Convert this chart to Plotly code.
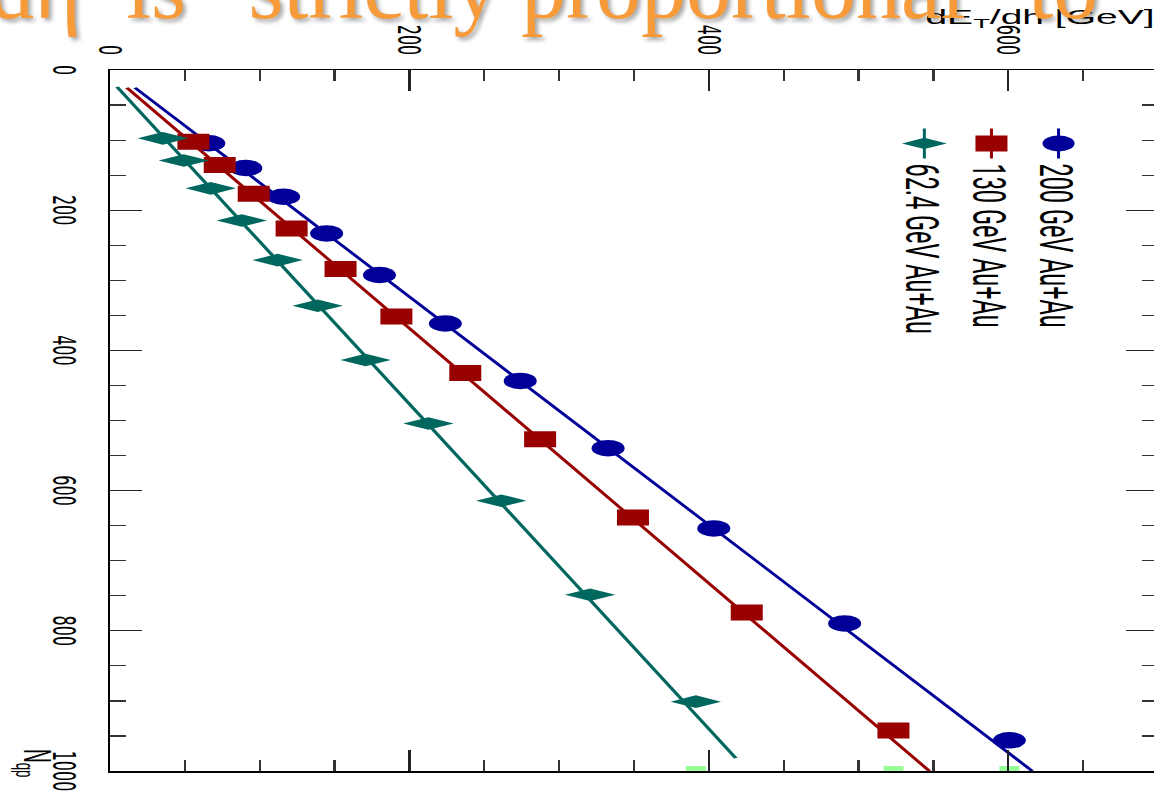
import plotly.graph_objects as go

# Transverse energy per unit pseudorapidity vs. number of quark participants
n_qp_200 = [104.5, 139.8, 180.8, 233.1, 292.4, 361.6, 443.5, 539.5, 654.0, 789.5, 956.2]
et_200 = [66.0, 90.7, 116.0, 144.7, 180.0, 224.0, 274.0, 332.7, 403.3, 490.7, 600.7]

n_qp_130 = [102.4, 135.6, 176.6, 226.0, 283.9, 351.7, 432.2, 526.8, 638.4, 774.0, 942.1]
et_130 = [55.7, 73.3, 96.0, 121.3, 154.0, 191.3, 237.3, 287.3, 349.3, 425.3, 523.3]

n_qp_62 = [97.5, 129.2, 168.8, 214.7, 271.2, 336.2, 413.8, 504.2, 614.4, 748.6, 901.1]
et_62 = [35.3, 49.3, 67.3, 88.0, 112.0, 138.7, 170.7, 212.7, 261.3, 320.7, 391.3]

# Linear fits, as end points of each fitted line
fit_n_200 = [25.4, 1000.0]
fit_et_200 = [16.7, 616.0]
fit_n_130 = [25.4, 1000.0]
fit_et_130 = [11.3, 547.3]
fit_n_62 = [24.0, 981.6]
fit_et_62 = [4.7, 418.0]

# Projections of the most central points onto the N_qp = 1000 edge
edge_n = [1000, 1000, 1000]
edge_et = [391.3, 523.3, 600.7]

series_names = ["200 GeV Au+Au", "130 GeV Au+Au", "62.4 GeV Au+Au"]
series_colors = ["#000099", "#990000", "#00675F"]
series_symbols = ["circle", "square", "diamond-tall"]
series_sizes = [16.5, 16, 18]

# The figure is laid out in its natural orientation (N_qp horizontal) and
# then turned a quarter turn clockwise on the page, stretched 2x across.
W, H = 801, 591
ML, MR, MT, MB = 70, 23, 10, 56
KX = 2.0
SHIFT = 1180
PW, PH = W - ML - MR, H - MT - MB


def paper_x(xo):
    return (xo - ML) / PW


def paper_y(yo):
    return (MT + PH - yo) / PH


fig = go.Figure()

groups = [
    (n_qp_200, et_200, fit_n_200, fit_et_200),
    (n_qp_130, et_130, fit_n_130, fit_et_130),
    (n_qp_62, et_62, fit_n_62, fit_et_62),
]

for (nq, et, fn, fe), name, col, sym, sz in zip(
    groups, series_names, series_colors, series_symbols, series_sizes
):
    fig.add_trace(go.Scatter(
        x=fn, y=fe, mode="lines", line=dict(color=col, width=2),
        showlegend=False, hoverinfo="skip",
    ))
    fig.add_trace(go.Scatter(
        x=nq, y=et, mode="markers", name=name,
        marker=dict(color=col, symbol=sym, size=sz, line=dict(width=0)),
        showlegend=False,
    ))

# legend entries: line with marker
for name, col, sym, sz in zip(series_names, series_colors, series_symbols, series_sizes):
    fig.add_trace(go.Scatter(
        x=[None], y=[None], mode="lines+markers", name=name,
        line=dict(color=col, width=1.5),
        marker=dict(color=col, symbol=sym, size=sz, line=dict(width=0)),
    ))

fig.add_trace(go.Scatter(
    x=edge_n, y=edge_et, mode="markers", showlegend=False,
    marker=dict(color="#99FF99", symbol="square", size=10, line=dict(width=0)),
    cliponaxis=True, hoverinfo="skip",
))

tick_font = dict(family="DejaVu Sans", size=16, color="black")

fig.update_xaxes(
    range=[0, 1000], tick0=0, dtick=200,
    ticks="inside", ticklen=16, tickwidth=1.2, tickcolor="#222",
    minor=dict(tick0=0, dtick=50, ticks="inside", ticklen=8, tickwidth=1.2, tickcolor="#333"),
    showline=True, linecolor="black", linewidth=1.2, mirror="allticks",
    showgrid=False, zeroline=False, tickfont=tick_font, ticklabelstandoff=8,
)
fig.update_yaxes(
    range=[0, 700], tick0=0, dtick=200,
    ticks="inside", ticklen=21, tickwidth=1.2, tickcolor="#222",
    minor=dict(tick0=0, dtick=50, ticks="inside", ticklen=11, tickwidth=1.2, tickcolor="#333"),
    showline=True, linecolor="black", linewidth=1.5, mirror="allticks",
    showgrid=False, zeroline=False, tickfont=tick_font, ticklabelstandoff=10,
)

annotations = [
    dict(
        text="dE<sub>T</sub>/dh [GeV]",
        xref="paper", yref="paper",
        x=paper_x(18), y=paper_y((SHIFT - 923) / KX),
        xanchor="center", yanchor="bottom", textangle=-90, showarrow=False,
        font=dict(family="Liberation Sans, Arial, sans-serif", size=19.5, color="black"),
    ),
    dict(
        text="N<sub>qp</sub>",
        xref="paper", yref="paper",
        x=paper_x(787), y=paper_y((SHIFT - 33) / KX),
        xanchor="right", yanchor="middle", showarrow=False,
        font=dict(family="Liberation Sans, Arial, sans-serif", size=19, color="black"),
    ),
    # slide heading running across the top (placed precisely in the page script)
    dict(
        text="dη\u00a0\u00a0is “strictly proportional” to",
        xref="paper", yref="paper", x=0.5, y=0.5,
        xanchor="center", yanchor="middle", textangle=-90, showarrow=False,
        font=dict(family="Liberation Serif, Times New Roman, serif", size=90,
                  color="#F79B3A", shadow="3px 3px 4px rgba(0,0,0,0.35)"),
    ),
]

fig.update_layout(
    width=W, height=H, autosize=False,
    margin=dict(l=ML, r=MR, t=MT, b=MB, pad=0),
    paper_bgcolor="white", plot_bgcolor="white",
    annotations=annotations,
    legend=dict(
        x=paper_x(124), y=paper_y(38), xanchor="left", yanchor="top",
        bgcolor="rgba(0,0,0,0)", borderwidth=0, tracegroupgap=0,
        font=dict(family="Roboto, Liberation Sans, sans-serif", size=23.5, color="black"),
    ),
    showlegend=True,
)

# Page script: turn the figure onto the page, then set the heading so that
# its letters keep their natural proportions (undo the 2x stretch along it),
# with the word "is" starting at page x = 126 and the baseline at page y = 17.5.
post = """
var gd = document.getElementById('{plot_id}');
document.documentElement.style.overflow = 'hidden';
document.body.style.margin = '0';
document.body.style.overflow = 'hidden';
gd.style.position = 'absolute';
gd.style.left = '0px';
gd.style.top = '0px';
gd.style.transformOrigin = '0 0';
gd.style.transform = 'matrix(0, 1, -%(kx)s, 0, %(shift)s, 0)';
var ann = gd.querySelector('.annotation[data-index="2"]');
if (ann) {
  var txt = ann.querySelector('text');
  var m = ann.getCTM().inverse().multiply(txt.getCTM());
  var p = txt.getStartPositionOfChar(4).matrixTransform(m);
  var xt = 17.5;
  var yt = (%(shift)s - 126) / %(kx)s;
  ann.setAttribute('transform',
    'translate(' + (xt - p.x) + ',' + yt + ') scale(1,' + (1 / %(kx)s) + ') translate(0,' + (-p.y) + ')');
}
""" % {"kx": KX, "shift": SHIFT}

fig.write_html(
    "out.html",
    config={"displayModeBar": False, "responsive": False, "staticPlot": True},
    post_script=post,
)
